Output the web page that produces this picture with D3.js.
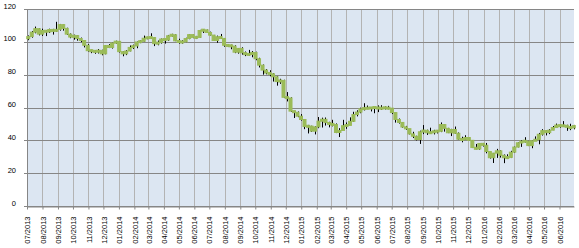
<!DOCTYPE html>
<html>
<head>
<meta charset="utf-8">
<script src="https://cdn.jsdelivr.net/npm/d3@7"></script>
<style>
html,body{margin:0;padding:0;background:#fff;}
svg{display:block;}
text{font-family:"Liberation Sans",Arial,sans-serif;fill:#000;}
</style>
</head>
<body>
<svg id="chart" width="579" height="248"></svg>
<script>
// Weekly bars: first week starts Monday 2013-07-01, one bar per week
const firstWeek = "2013-07-01";
const weekCount = 157;
const axisStart = "2013-07-01";
const axisEnd = "2016-06-30";
const yTicks = [0, 20, 40, 60, 80, 100, 120];
const xTickFormat = "%m/%Y";

const opens = [
101.9,103.2,105.9,108.0,104.7,106.9,106.0,107.5,106.4,107.6,110.5,108.2,104.7,102.9,103.8,102.0,100.8,97.9,94.6,94.6,93.8,94.8,92.7,97.7,96.6,99.3,
100.3,94.0,92.7,94.4,96.6,97.5,99.9,100.3,102.2,102.6,102.6,98.9,99.5,101.7,101.1,103.7,104.3,100.6,99.8,100.0,102.0,104.4,102.7,102.7,106.9,107.3,
105.7,104.1,100.8,103.1,102.1,97.9,97.7,97.4,93.7,96.0,93.3,92.3,92.4,93.5,89.7,85.8,82.8,81.0,80.5,78.7,75.8,76.5,66.2,65.8,57.8,57.1,
54.7,52.7,48.4,48.7,45.6,48.2,51.7,52.8,50.8,49.8,49.6,44.8,46.0,48.9,49.1,51.6,55.7,57.2,59.2,59.4,59.7,59.7,60.3,59.1,60.0,59.6,
59.6,56.9,52.7,50.9,48.1,47.1,43.9,42.5,40.5,45.2,46.1,44.6,44.7,45.7,45.5,49.6,47.3,44.6,46.6,44.3,40.7,40.4,41.7,40.0,35.6,34.7,
38.1,37.0,33.2,29.4,32.2,33.6,30.9,29.4,29.6,32.8,35.9,38.5,39.4,39.5,36.8,39.7,40.4,43.7,45.9,44.7,46.2,47.8,49.3,48.6,49.1,48.0,47.6
];
const closes = [
103.2,105.9,108.0,104.7,106.9,106.0,107.5,106.4,107.6,110.5,108.2,104.7,102.9,103.8,102.0,100.8,97.9,94.6,94.6,93.8,94.8,92.7,97.7,96.6,99.3,100.3,
94.0,92.7,94.4,96.6,97.5,99.9,100.3,102.2,102.6,102.6,98.9,99.5,101.7,101.1,103.7,104.3,100.6,99.8,100.0,102.0,104.4,102.7,102.7,106.9,107.3,105.7,
104.1,100.8,103.1,102.1,97.9,97.7,97.4,93.7,96.0,93.3,92.3,92.4,93.5,89.7,85.8,82.8,81.0,80.5,78.7,75.8,76.5,66.2,65.8,57.8,57.1,54.7,
52.7,48.4,48.7,45.6,48.2,51.7,52.8,50.8,49.8,49.6,44.8,46.0,48.9,49.1,51.6,55.7,57.2,59.2,59.4,59.7,59.7,60.3,59.1,60.0,59.6,59.6,
56.9,52.7,50.9,48.1,47.1,43.9,42.5,40.5,45.2,46.1,44.6,44.7,45.7,45.5,49.6,47.3,44.6,46.6,44.3,40.7,40.4,41.7,40.0,35.6,34.7,38.1,
37.0,33.2,29.4,32.2,33.6,30.9,29.4,29.6,32.8,35.9,38.5,39.4,39.5,36.8,39.7,40.4,43.7,45.9,44.7,46.2,47.8,49.3,48.6,49.1,48.0,47.6,49.0
];
const highs = [
103.9,106.6,109.3,108.3,108.0,107.2,108.0,107.9,112.2,110.9,110.7,108.6,105.1,104.4,104.0,102.6,101.0,98.7,95.2,95.0,95.6,95.2,97.9,98.6,99.5,100.7,
100.5,94.3,95.0,97.8,98.3,100.2,101.1,103.8,103.1,105.2,102.8,100.8,102.0,101.9,104.2,104.9,104.6,101.9,101.0,102.5,104.7,104.6,103.6,107.3,107.7,107.5,
106.2,104.2,103.8,104.8,102.3,98.5,98.3,97.9,96.2,96.7,94.1,95.1,94.4,94.0,90.3,86.2,83.4,82.7,80.9,79.2,77.5,76.9,69.4,66.2,58.0,57.6,
56.0,52.8,49.4,48.9,48.6,54.2,53.8,53.9,51.3,52.5,50.3,47.4,52.5,50.9,54.0,57.4,58.3,59.9,62.6,61.2,60.3,60.6,61.3,61.4,60.7,61.0,
59.7,57.0,53.3,51.1,48.8,47.0,45.2,42.8,45.9,49.3,46.5,47.7,46.4,46.2,50.9,49.8,47.6,47.0,48.4,44.8,42.2,43.1,42.0,40.2,37.8,38.3,
38.4,38.4,33.2,32.3,34.8,34.0,31.4,31.5,33.6,36.2,38.8,40.2,41.9,39.7,39.9,42.4,44.5,46.8,46.0,46.8,48.7,50.2,49.6,51.7,49.5,50.1,49.4
];
const lows = [
101.0,102.5,105.2,103.9,103.6,103.5,105.4,104.4,106.0,106.8,106.8,104.2,102.2,101.3,100.7,99.8,96.6,94.1,93.1,92.7,92.9,91.8,92.4,96.2,95.9,98.8,
93.5,91.2,91.9,94.2,95.6,96.1,99.2,100.0,101.6,101.8,97.4,97.9,98.9,98.9,100.6,103.1,100.4,98.9,98.9,99.8,101.6,102.2,101.7,102.4,105.4,105.4,
103.8,100.5,99.4,101.8,97.0,96.8,95.5,93.1,92.8,92.2,91.3,91.4,90.6,88.8,84.4,80.0,80.2,79.0,75.8,73.3,74.4,65.7,63.7,57.3,53.6,54.1,
52.0,46.8,44.2,45.1,43.6,47.4,47.8,49.0,47.9,48.5,44.4,42.0,46.1,47.0,49.2,51.3,54.6,56.5,58.2,59.0,57.6,56.5,57.2,58.5,58.8,58.9,
56.0,50.8,50.2,47.7,46.4,43.6,41.4,39.9,37.8,43.8,43.3,44.1,43.6,44.2,45.0,45.3,44.4,42.6,43.9,40.4,38.8,40.2,39.7,35.3,34.5,34.3,
36.2,32.1,28.9,26.2,29.3,29.5,26.1,28.6,29.2,32.4,35.7,36.0,38.6,36.5,35.2,39.6,37.6,42.9,43.0,43.8,46.2,47.7,47.7,48.3,45.8,46.2,46.7
];

const W = 579, H = 248;
const plot = {left: 27, right: 574, top: 9, bottom: 206};
const parse = d3.timeParse("%Y-%m-%d");
const weeks = d3.timeMonday.range(parse(firstWeek), d3.timeDay.offset(parse(firstWeek), weekCount * 7)).slice(0, weekCount);
const data = weeks.map((d, i) => ({date: d, o: opens[i], c: closes[i], h: highs[i], l: lows[i]}));

const x = d3.scaleTime().domain([parse(axisStart), parse(axisEnd)]).range([plot.left, plot.right]);
const y = d3.scaleLinear().domain([0, 120]).range([plot.bottom, plot.top]);

const svg = d3.select("#chart");

// plot background
svg.append("rect").attr("x", plot.left).attr("y", plot.top)
  .attr("width", plot.right - plot.left).attr("height", plot.bottom - plot.top)
  .attr("fill", "#dce6f2");

const months = d3.timeMonth.range(parse(axisStart), d3.timeDay.offset(parse(axisEnd), 1));

// vertical gridlines
svg.append("g").selectAll("line").data(months.slice(1)).join("line")
  .attr("x1", d => Math.round(x(d)) + 0.5).attr("x2", d => Math.round(x(d)) + 0.5)
  .attr("y1", plot.top).attr("y2", plot.bottom)
  .attr("stroke", "#b3b3b3").attr("stroke-width", 1);

// horizontal gridlines (with outer tick)
svg.append("g").selectAll("line").data(yTicks).join("line")
  .attr("x1", plot.left - 3).attr("x2", plot.right)
  .attr("y1", d => Math.round(y(d)) + 0.5).attr("y2", d => Math.round(y(d)) + 0.5)
  .attr("stroke", "#868686").attr("stroke-width", 1);

// y axis line
svg.append("line").attr("x1", plot.left + 0.5).attr("x2", plot.left + 0.5)
  .attr("y1", plot.top).attr("y2", plot.bottom + 0.5)
  .attr("stroke", "#868686");

// x axis via d3
const xAxis = d3.axisBottom(x).tickValues(months).tickFormat(d3.timeFormat(xTickFormat))
  .tickSize(3).tickSizeOuter(0);
const gx = svg.append("g").attr("transform", `translate(0,${Math.round(y(0)) + 0.5})`).call(xAxis);
gx.select(".domain").attr("stroke", "#868686");
gx.selectAll(".tick line").attr("stroke", "#868686");
gx.selectAll(".tick text")
  .attr("transform", "rotate(-90)")
  .attr("text-anchor", "end")
  .attr("x", -10).attr("y", 0).attr("dy", "0.35em")
  .style("font-size", "7.5px").attr("fill", "#000");

// y labels
svg.append("g").selectAll("text").data(yTicks).join("text")
  .attr("x", 16).attr("y", d => y(d) - 0.5)
  .attr("text-anchor", "end")
  .style("font-size", "7.5px")
  .text(d => d);

// candles
const half = 3.5 * 24 * 3600 * 1000;
const g = svg.append("g");
const cx = d => x(new Date(d.date.getTime() + 2.5 * 24 * 3600 * 1000));
g.selectAll("line.wick").data(data).join("line").attr("class", "wick")
  .attr("x1", d => Math.round(cx(d)) + 0.5).attr("x2", d => Math.round(cx(d)) + 0.5)
  .attr("y1", d => y(d.h)).attr("y2", d => y(d.l))
  .attr("stroke", "#000").attr("stroke-width", 1);
g.selectAll("rect.body").data(data).join("rect").attr("class", "body")
  .attr("x", d => cx(d) - 1.5)
  .attr("width", 3)
  .attr("y", d => { const t = y(Math.max(d.o, d.c)), b = y(Math.min(d.o, d.c)); return (b - t < 2) ? (t + b) / 2 - 1 : t; })
  .attr("height", d => Math.max(2, Math.abs(y(d.o) - y(d.c))))
  .attr("fill", "#9bbb59").attr("stroke", "#9bbb59").attr("stroke-width", 1);
</script>
</body>
</html>
